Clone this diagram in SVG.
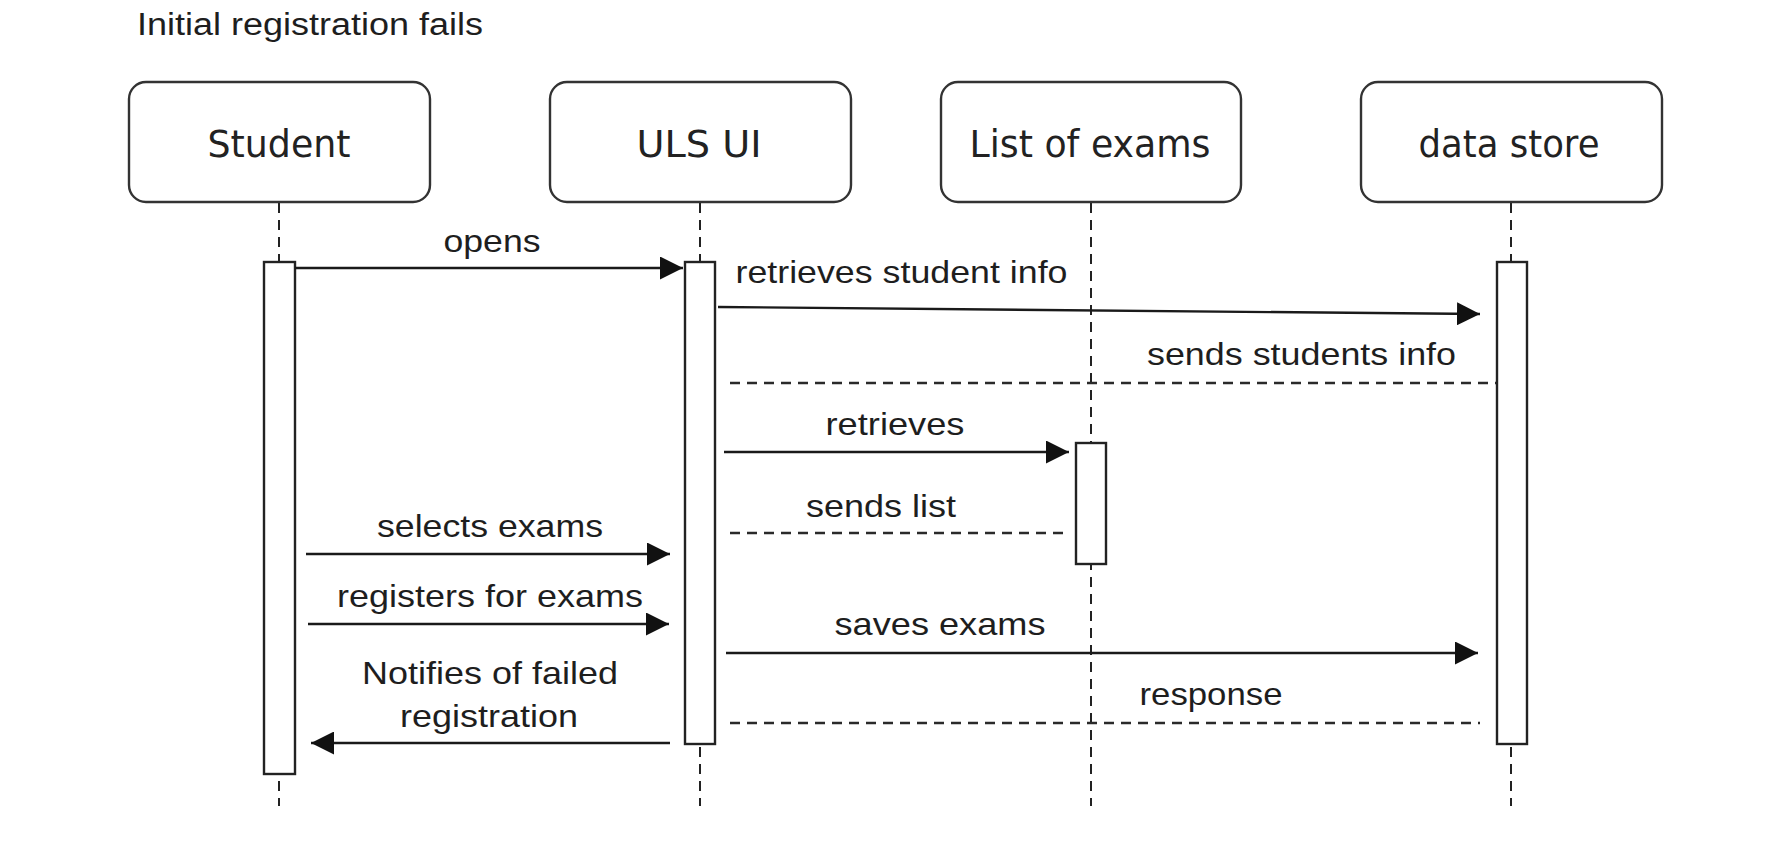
<svg xmlns="http://www.w3.org/2000/svg" width="1784" height="848" viewBox="0 0 1784 848">
<style>
.hdr{fill:#fff;stroke:#333;stroke-width:2.4}
.htxt{font-family:"DejaVu Sans",sans-serif;font-size:37px;fill:#222;text-anchor:middle}
.lbl{font-family:"Liberation Sans",Arial,sans-serif;font-size:32px;fill:#1e1e1e;text-anchor:middle}
.life{stroke:#222;stroke-width:2;stroke-dasharray:10 7;fill:none}
.act{fill:#fff;stroke:#222;stroke-width:2.4}
.msg{stroke:#1a1a1a;stroke-width:2.4;fill:none}
.ret{stroke:#2a2a2a;stroke-width:2.4;fill:none;stroke-dasharray:10 7}
</style>
<defs>
<marker id="ah" markerUnits="userSpaceOnUse" markerWidth="24" markerHeight="23" refX="23" refY="11.5" orient="auto">
<path d="M0,0 L23,11.5 L0,23 Z" fill="#111"/>
</marker>
</defs>
<rect width="1784" height="848" fill="#fff"/>
<text id="title" class="lbl" x="310" y="35" textLength="346" lengthAdjust="spacingAndGlyphs" style="font-size:31px">Initial registration fails</text>
<g id="lifelines">
<line class="life" x1="279" y1="203" x2="279" y2="806"/>
<line class="life" x1="700" y1="203" x2="700" y2="806"/>
<line class="life" x1="1091" y1="203" x2="1091" y2="806"/>
<line class="life" x1="1511" y1="203" x2="1511" y2="806"/>
</g>
<g id="student">
<rect class="hdr" x="129" y="82" width="301" height="120" rx="17"/>
<text class="htxt" x="279" y="157" textLength="143" lengthAdjust="spacingAndGlyphs">Student</text>
<rect class="act" x="264" y="262" width="31" height="512"/>
</g>
<g id="uls-ui">
<rect class="hdr" x="550" y="82" width="301" height="120" rx="17"/>
<text class="htxt" x="699" y="157" textLength="125" lengthAdjust="spacingAndGlyphs">ULS UI</text>
<rect class="act" x="685" y="262" width="30" height="482"/>
</g>
<g id="list-of-exams">
<rect class="hdr" x="941" y="82" width="300" height="120" rx="17"/>
<text class="htxt" x="1090" y="157" textLength="241" lengthAdjust="spacingAndGlyphs">List of exams</text>
<rect class="act" x="1076" y="443" width="30" height="121"/>
</g>
<g id="data-store">
<rect class="hdr" x="1361" y="82" width="301" height="120" rx="17"/>
<text class="htxt" x="1509" y="157" textLength="181" lengthAdjust="spacingAndGlyphs">data store</text>
<rect class="act" x="1497" y="262" width="30" height="482"/>
</g>
<g id="connectors">
<line class="msg" x1="295" y1="268" x2="683" y2="268" marker-end="url(#ah)"/>
<line class="msg" x1="718" y1="307" x2="1480" y2="314" marker-end="url(#ah)"/>
<line class="ret" x1="730" y1="383" x2="1496" y2="383"/>
<line class="msg" x1="724" y1="452" x2="1069" y2="452" marker-end="url(#ah)"/>
<line class="ret" x1="730" y1="533" x2="1064" y2="533"/>
<line class="msg" x1="306" y1="554" x2="670" y2="554" marker-end="url(#ah)"/>
<line class="msg" x1="308" y1="624" x2="669" y2="624" marker-end="url(#ah)"/>
<line class="msg" x1="726" y1="653" x2="1478" y2="653" marker-end="url(#ah)"/>
<line class="ret" x1="730" y1="723" x2="1480" y2="723"/>
<line class="msg" x1="670" y1="743" x2="311" y2="743" marker-end="url(#ah)"/>
</g>
<g id="labels">
<text class="lbl" x="492" y="252" textLength="97" lengthAdjust="spacingAndGlyphs">opens</text>
<text class="lbl" x="901.5" y="283" textLength="332" lengthAdjust="spacingAndGlyphs">retrieves student info</text>
<text class="lbl" x="1301.5" y="365" textLength="309" lengthAdjust="spacingAndGlyphs">sends students info</text>
<text class="lbl" x="895" y="435" textLength="139" lengthAdjust="spacingAndGlyphs">retrieves</text>
<text class="lbl" x="881" y="517" textLength="150" lengthAdjust="spacingAndGlyphs">sends list</text>
<text class="lbl" x="490" y="537" textLength="226" lengthAdjust="spacingAndGlyphs">selects exams</text>
<text class="lbl" x="490" y="607" textLength="306" lengthAdjust="spacingAndGlyphs">registers for exams</text>
<text class="lbl" x="940" y="635" textLength="211" lengthAdjust="spacingAndGlyphs">saves exams</text>
<text class="lbl" x="1211" y="705" textLength="143" lengthAdjust="spacingAndGlyphs">response</text>
<text class="lbl" x="490" y="684" textLength="256" lengthAdjust="spacingAndGlyphs">Notifies of failed</text>
<text class="lbl" x="489" y="727" textLength="178" lengthAdjust="spacingAndGlyphs">registration</text>
</g>
</svg>
